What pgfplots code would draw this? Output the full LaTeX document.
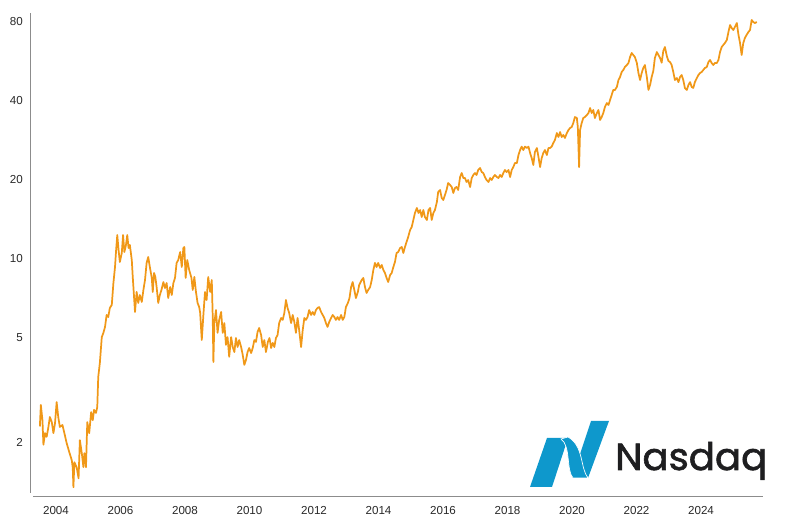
\documentclass[border=0pt]{standalone}
\usepackage{pgfplots}
\pgfplotsset{compat=1.18}
\usepackage{fontspec}
\setmainfont{Liberation Sans}
\newfontfamily\logofont[FakeBold=1.6]{Poppins}
\definecolor{linec}{RGB}{240,152,24}
\definecolor{axgray}{RGB}{140,140,140}
\definecolor{lblc}{RGB}{40,40,40}
\definecolor{logoblue}{RGB}{14,152,204}
\definecolor{logotext}{RGB}{30,30,32}
\begin{document}
\begin{tikzpicture}
\path[use as bounding box] (0,0) rectangle (600pt,390pt);
\begin{axis}[
  at={(22.5pt,17.25pt)}, anchor=south west,
  scale only axis, width=549.75pt, height=363pt,
  ymode=log,
  xmin=2003.194, xmax=2025.922,
  ymin=1.239, ymax=86.58,
  axis line style={draw=none},
  major tick length=0pt, minor tick length=0pt,
  xtick={2004,2006,2008,2010,2012,2014,2016,2018,2020,2022,2024},
  xticklabels={2004,2006,2008,2010,2012,2014,2016,2018,2020,2022,2024},
  ytick={2,5,10,20,40,80},
  yticklabels={2,5,10,20,40,80},
  minor ytick={},
  tick label style={font=\fontsize{8.7}{10}\selectfont, text=lblc},
  xticklabel style={inner sep=0pt, anchor=north, yshift=-6.5pt},
  yticklabel style={inner sep=0pt, anchor=east, xshift=-5.25pt},
  clip=false,
]
\draw[axgray, line width=0.75pt] (rel axis cs:0,0.0083) -- (rel axis cs:0,1);
\draw[axgray, line width=0.75pt] (rel axis cs:0.0041,0) -- (rel axis cs:1,0);
\addplot[color=linec, line width=1.3pt, line join=round] table[header=true] {
x y
2003.50 2.30
2003.53 2.78
2003.58 2.43
2003.61 1.96
2003.66 2.17
2003.71 2.10
2003.76 2.27
2003.81 2.50
2003.87 2.39
2003.92 2.17
2003.97 2.37
2004.02 2.85
2004.07 2.50
2004.12 2.29
2004.20 2.33
2004.26 2.17
2004.33 1.99
2004.41 1.84
2004.49 1.71
2004.52 1.60
2004.54 1.35
2004.57 1.68
2004.64 1.61
2004.70 1.46
2004.74 2.04
2004.80 1.82
2004.85 1.61
2004.88 1.82
2004.93 1.61
2004.97 2.39
2005.03 2.17
2005.09 2.61
2005.14 2.43
2005.18 2.66
2005.24 2.59
2005.28 2.73
2005.31 3.55
2005.36 4.02
2005.42 5.04
2005.47 5.23
2005.52 5.51
2005.57 6.12
2005.62 6.01
2005.67 6.51
2005.73 6.68
2005.78 8.10
2005.83 9.32
2005.86 10.63
2005.90 12.34
2005.94 10.82
2005.98 9.74
2006.04 10.54
2006.08 12.34
2006.12 10.63
2006.17 11.31
2006.21 12.34
2006.25 11.01
2006.29 11.31
2006.35 9.91
2006.38 8.54
2006.42 7.17
2006.45 6.28
2006.50 7.49
2006.55 6.80
2006.60 7.29
2006.66 6.86
2006.71 7.62
2006.76 8.32
2006.81 9.66
2006.86 10.18
2006.91 9.32
2006.97 8.47
2007.00 7.49
2007.04 8.85
2007.08 8.54
2007.12 7.82
2007.17 6.80
2007.22 7.29
2007.27 7.62
2007.33 8.17
2007.38 7.75
2007.43 8.10
2007.48 7.10
2007.54 7.82
2007.59 7.29
2007.64 8.10
2007.69 8.47
2007.74 9.66
2007.79 9.91
2007.85 10.63
2007.90 9.32
2007.95 11.01
2007.98 11.11
2008.02 8.47
2008.07 9.91
2008.13 9.08
2008.20 8.47
2008.24 7.62
2008.29 8.54
2008.34 7.49
2008.39 6.80
2008.44 6.56
2008.47 6.23
2008.52 4.91
2008.57 6.12
2008.62 7.49
2008.67 6.98
2008.72 8.54
2008.78 7.49
2008.83 8.32
2008.86 6.01
2008.88 4.05
2008.91 5.70
2008.96 6.39
2009.01 5.23
2009.06 5.86
2009.12 6.28
2009.17 5.23
2009.22 5.70
2009.27 4.71
2009.32 5.04
2009.37 4.24
2009.43 5.04
2009.48 4.62
2009.53 4.42
2009.58 5.00
2009.63 4.62
2009.68 4.91
2009.74 4.62
2009.79 4.31
2009.84 3.95
2009.89 4.12
2009.94 4.42
2009.99 4.58
2010.05 4.38
2010.10 4.58
2010.15 4.91
2010.20 4.83
2010.25 5.27
2010.30 5.46
2010.36 5.13
2010.41 4.62
2010.46 4.91
2010.51 4.42
2010.57 4.83
2010.62 5.00
2010.67 4.58
2010.72 4.79
2010.77 4.62
2010.82 5.00
2010.87 5.13
2010.92 5.70
2010.98 5.96
2011.03 5.86
2011.08 6.23
2011.13 6.98
2011.18 6.51
2011.23 6.23
2011.29 5.70
2011.34 6.12
2011.39 5.75
2011.44 5.23
2011.49 5.96
2011.54 5.36
2011.60 4.62
2011.65 5.36
2011.70 5.96
2011.75 5.86
2011.80 6.01
2011.85 6.39
2011.91 6.12
2011.96 6.28
2012.01 6.12
2012.06 6.39
2012.11 6.51
2012.16 6.56
2012.22 6.28
2012.27 6.12
2012.32 5.96
2012.37 5.70
2012.42 5.51
2012.47 5.75
2012.53 5.96
2012.58 6.12
2012.63 6.01
2012.68 5.86
2012.73 6.01
2012.78 5.86
2012.84 6.12
2012.89 5.86
2012.94 6.01
2012.99 6.56
2013.05 6.80
2013.10 7.10
2013.15 7.82
2013.20 8.17
2013.25 7.62
2013.30 7.10
2013.36 7.49
2013.40 7.96
2013.48 8.32
2013.53 8.47
2013.58 7.82
2013.63 7.42
2013.68 7.62
2013.74 7.82
2013.79 8.32
2013.84 9.08
2013.89 9.66
2013.94 9.32
2013.99 9.66
2014.05 9.24
2014.10 9.49
2014.15 9.08
2014.20 8.85
2014.25 8.47
2014.30 8.17
2014.36 8.69
2014.41 8.85
2014.46 9.32
2014.51 9.74
2014.56 10.54
2014.61 10.63
2014.67 11.01
2014.72 11.11
2014.77 10.54
2014.82 11.11
2014.87 11.61
2014.92 12.13
2014.98 12.90
2015.03 13.24
2015.08 14.08
2015.13 14.97
2015.19 15.65
2015.24 14.97
2015.29 15.37
2015.34 14.45
2015.39 15.37
2015.44 14.45
2015.50 14.08
2015.55 15.37
2015.60 15.65
2015.65 14.08
2015.70 14.97
2015.75 15.37
2015.81 16.49
2015.85 18.00
2015.91 18.32
2015.96 17.08
2016.01 16.78
2016.06 17.53
2016.11 18.32
2016.16 19.48
2016.22 19.14
2016.27 18.81
2016.32 17.85
2016.37 18.64
2016.42 18.81
2016.47 18.32
2016.53 20.53
2016.58 21.26
2016.63 20.35
2016.68 20.35
2016.73 19.65
2016.78 20.00
2016.84 18.81
2016.89 20.35
2016.94 20.90
2016.99 21.26
2017.04 20.90
2017.09 21.83
2017.15 22.22
2017.20 21.45
2017.25 21.26
2017.30 20.53
2017.35 20.00
2017.41 19.65
2017.46 20.35
2017.51 20.00
2017.56 20.53
2017.61 20.90
2017.67 20.53
2017.72 20.35
2017.77 20.90
2017.82 20.53
2017.87 21.26
2017.92 21.83
2017.97 21.45
2018.03 21.83
2018.08 20.53
2018.13 21.83
2018.18 22.41
2018.23 23.21
2018.29 23.21
2018.34 24.90
2018.39 26.02
2018.44 26.81
2018.49 26.02
2018.54 26.81
2018.60 26.48
2018.65 26.81
2018.70 25.34
2018.75 24.26
2018.80 22.81
2018.85 25.57
2018.91 26.48
2018.96 24.47
2019.01 22.41
2019.06 24.26
2019.11 25.34
2019.16 26.02
2019.22 24.90
2019.27 26.48
2019.32 26.48
2019.37 26.81
2019.42 27.67
2019.47 28.41
2019.53 30.20
2019.58 29.17
2019.63 30.47
2019.68 29.17
2019.73 29.68
2019.78 28.91
2019.84 30.20
2019.89 31.01
2019.94 31.56
2019.99 31.84
2020.04 32.98
2020.09 34.75
2020.15 34.45
2020.18 31.84
2020.22 22.41
2020.25 31.01
2020.30 32.98
2020.35 34.45
2020.40 34.75
2020.46 35.38
2020.51 35.99
2020.56 37.61
2020.61 35.99
2020.66 36.96
2020.71 34.45
2020.77 35.99
2020.82 36.96
2020.87 33.86
2020.92 34.75
2020.97 35.99
2021.02 37.95
2021.08 39.30
2021.13 38.62
2021.18 40.35
2021.23 42.17
2021.28 44.07
2021.33 44.07
2021.39 45.22
2021.44 48.08
2021.49 49.37
2021.54 51.59
2021.59 52.50
2021.64 53.90
2021.70 54.86
2021.75 55.82
2021.80 58.84
2021.85 60.94
2021.90 59.88
2021.95 58.84
2022.01 55.82
2022.06 51.13
2022.11 48.08
2022.16 51.13
2022.21 53.43
2022.26 54.86
2022.32 49.37
2022.37 44.07
2022.42 46.02
2022.47 49.37
2022.52 52.04
2022.57 58.35
2022.63 61.47
2022.68 59.88
2022.73 58.35
2022.78 56.00
2022.83 62.00
2022.88 64.24
2022.94 59.36
2022.99 56.81
2023.04 56.31
2023.09 54.86
2023.14 51.59
2023.19 48.08
2023.25 48.93
2023.30 47.21
2023.35 49.37
2023.40 50.25
2023.45 48.08
2023.50 44.85
2023.56 44.07
2023.61 46.02
2023.66 47.21
2023.71 45.22
2023.76 44.85
2023.81 47.21
2023.87 48.93
2023.92 50.25
2023.97 51.13
2024.02 51.59
2024.07 52.50
2024.12 53.43
2024.18 53.90
2024.23 56.31
2024.28 57.32
2024.33 55.82
2024.38 54.86
2024.43 55.82
2024.49 55.82
2024.54 57.32
2024.59 61.47
2024.64 64.24
2024.69 65.38
2024.74 66.53
2024.80 68.30
2024.85 73.28
2024.90 77.90
2024.95 75.90
2025.00 74.58
2025.05 76.57
2025.11 79.30
2025.16 71.67
2025.21 66.50
2025.26 59.90
2025.31 66.50
2025.36 69.50
2025.42 71.67
2025.47 73.28
2025.52 74.58
2025.57 81.40
2025.62 80.00
2025.67 79.30
2025.73 80.00
};
\end{axis}
% logo, coordinates in image pixels
\begin{scope}[yshift=390pt, x=0.75pt, y=-0.75pt]
\fill[logoblue] (530,487) -- (552,487) -- (568,438) -- (547,438) -- cycle;
\fill[logoblue] (572,478) -- (588,478) -- (609,421) -- (591,421) -- cycle;
\fill[logoblue, draw=white, line width=0.5pt] (561,439) .. controls (571,446) and (566,470) .. (573,478) -- (588,478) .. controls (580,468) and (584,446) .. (568,437) -- cycle;
\node[anchor=base west, inner sep=0pt, text=logotext] at (615,470) {\resizebox{114pt}{21pt}{\logofont Nasdaq}};
\end{scope}
\end{tikzpicture}
\end{document}
